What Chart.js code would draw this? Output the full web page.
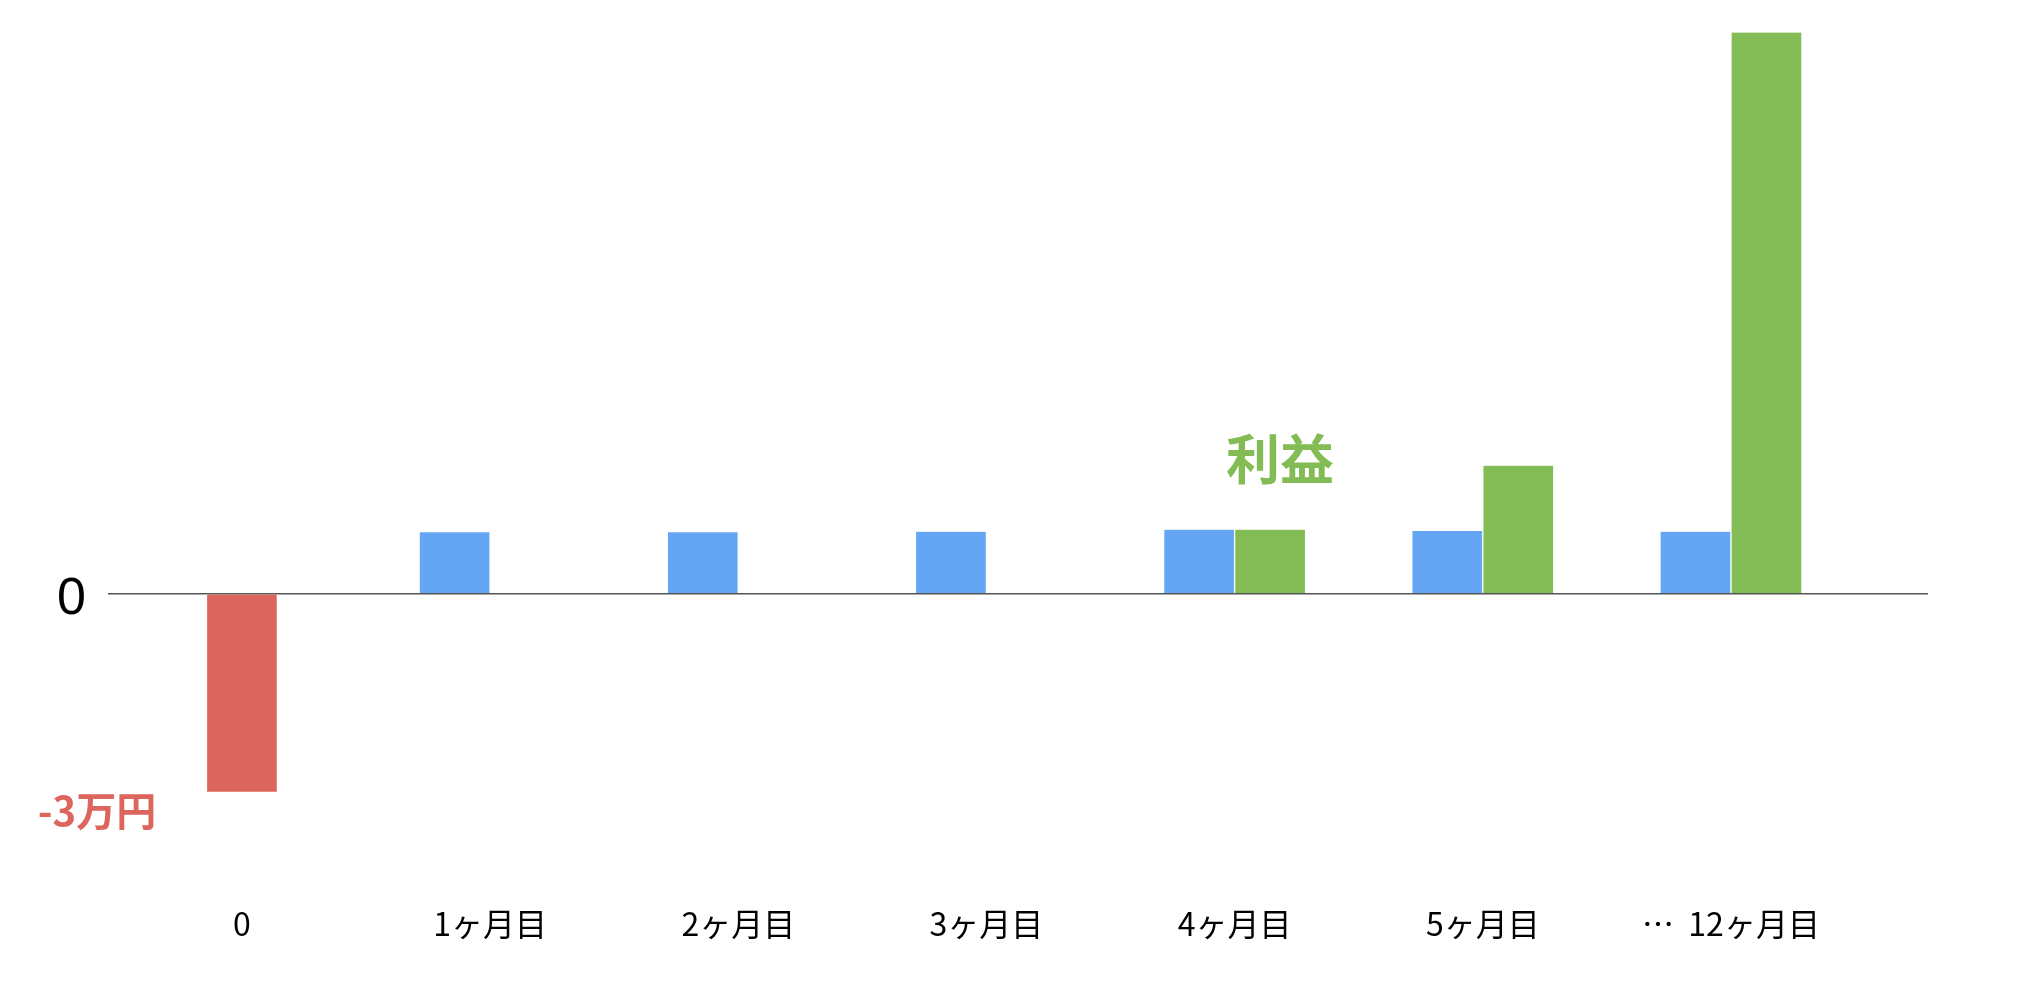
<!DOCTYPE html>
<html lang="ja">
<head>
<meta charset="utf-8">
<title>利益</title>
<script src="https://cdn.jsdelivr.net/npm/chart.js@4.4.1/dist/chart.umd.min.js"></script>
<style>
  html, body { margin: 0; padding: 0; background: #fff; }
  #wrap { width: 2044px; height: 988px; position: relative; }
</style>
</head>
<body>
<div id="wrap"><canvas id="profitChart"></canvas></div>
<script>
// Datos (unidad: 万円)
const monthLabels = ["0", "1ヶ月目", "2ヶ月目", "3ヶ月目", "4ヶ月目", "5ヶ月目", "…  12ヶ月目"];
const costValues = [-3, null, null, null, null, null, null];
const revenueValues = [null, 0.93, 0.93, 0.94, 0.97, 0.95, 0.94];
const profitValues = [null, 0, 0, 0, 0.97, 1.94, 8.5];
const yTicks = [0];
const costLabel = "-3万円";
const profitLabel = "利益";

const RED = "#DC665E";
const BLUE = "#64A6F3";
const GREEN = "#83BC55";

document.addEventListener("DOMContentLoaded", function () {
    const toPoints = values => values.map((v, i) => ({ x: i, y: v }));

    // Textos "-3万円" y "利益" junto a sus barras
    const notes = {
        id: "notes",
        afterDatasetsDraw(chart) {
            const ctx = chart.ctx;
            const red = chart.getDatasetMeta(0).data[0];
            const green = chart.getDatasetMeta(2).data[4];
            ctx.save();
            ctx.textAlign = "center";
            ctx.textBaseline = "middle";
            ctx.font = "700 40px 'Noto Sans CJK JP', sans-serif";
            ctx.fillStyle = RED;
            ctx.fillText(costLabel, red.x - 145, red.y + 19);
            ctx.font = "700 54px 'Noto Sans CJK JP', sans-serif";
            ctx.fillStyle = GREEN;
            ctx.fillText(profitLabel, green.x + 10, green.y - 70);
            ctx.restore();
        }
    };

    const barStyle = {
        barThickness: 71,
        borderWidth: { left: 1, right: 1, top: 0, bottom: 0 },
        borderColor: "#ffffff",
        skipNull: true
    };

    const ctx = document.getElementById("profitChart").getContext("2d");
    new Chart(ctx, {
        type: "bar",
        data: {
            datasets: [
                Object.assign({ label: "cost", data: toPoints(costValues), backgroundColor: RED }, barStyle),
                Object.assign({ label: "revenue", data: toPoints(revenueValues), backgroundColor: BLUE }, barStyle),
                Object.assign({ label: "profit", data: toPoints(profitValues), backgroundColor: GREEN }, barStyle)
            ]
        },
        options: {
            responsive: true,
            maintainAspectRatio: false,
            animation: false,
            layout: { padding: { left: 35, right: 116, top: 0, bottom: 29 } },
            plugins: {
                legend: { display: false },
                tooltip: { enabled: false }
            },
            scales: {
                x: {
                    type: "linear",
                    offset: false,
                    min: -0.54,
                    max: 6.794,
                    grid: { display: false },
                    border: { display: false },
                    afterBuildTicks: axis => {
                        axis.ticks = monthLabels.map((_, i) => ({ value: i }));
                    },
                    ticks: {
                        padding: 16,
                        color: "#000",
                        autoSkip: false,
                        maxRotation: 0,
                        font: { family: "'Noto Sans CJK JP', sans-serif", size: 32 },
                        callback: value => monthLabels[value]
                    }
                },
                y: {
                    min: -4.345,
                    max: 8.62,
                    border: { display: false },
                    grid: {
                        drawTicks: false,
                        color: "#555555",
                        lineWidth: 1.5
                    },
                    afterBuildTicks: axis => {
                        axis.ticks = yTicks.map(v => ({ value: v }));
                    },
                    ticks: {
                        padding: 22,
                        labelOffset: 6,
                        color: "#000",
                        font: { family: "'Liberation Sans', sans-serif", size: 52, lineHeight: 0.1 }
                    }
                }
            }
        },
        plugins: [notes]
    });
});
</script>
</body>
</html>
